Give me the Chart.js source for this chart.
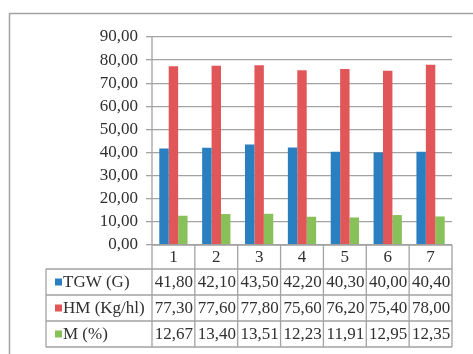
<!DOCTYPE html>
<html><head><meta charset="utf-8">
<script src="https://cdn.jsdelivr.net/npm/chart.js@4"></script>
<style>html,body{margin:0;padding:0;background:#fff;overflow:hidden}canvas{display:block}</style>
</head><body>
<canvas id="c" width="473" height="354"></canvas>
<script>
const categories = ['1','2','3','4','5','6','7'];
const seriesNames = ['TGW (G)', 'HM (Kg/hl)', 'M (%)'];
const tgw = [41.80, 42.10, 43.50, 42.20, 40.30, 40.00, 40.40];
const hm = [77.30, 77.60, 77.80, 75.60, 76.20, 75.40, 78.00];
const moisture = [12.67, 13.40, 13.51, 12.23, 11.91, 12.95, 12.35];
const yMin = 0, yMax = 90, yStep = 10;
const seriesColors = ['#2A7FC1', '#E15759', '#88C05A'];

const FONT = "'Liberation Serif', 'Times New Roman', 'DejaVu Serif', serif";
const TEXT = '#303030';
const LINE = '#A3A3A3';
const fmt = v => v.toFixed(2).replace('.', ',');

const tablePlugin = {
  id: 'dataTable',
  beforeDraw(chart) {
    const ctx = chart.ctx;
    ctx.save();
    ctx.strokeStyle = LINE;
    ctx.lineWidth = 1.5;
    ctx.beginPath();
    ctx.moveTo(9.5, 354); ctx.lineTo(9.5, 13.5); ctx.lineTo(473, 13.5);
    ctx.stroke();
    ctx.restore();
  },
  afterDraw(chart) {
    const ctx = chart.ctx, xs = chart.scales.x, area = chart.chartArea;
    const n = categories.length;
    const w = (area.right - area.left) / n;
    const tableLeft = 46;
    const yHeadTop = area.bottom;
    const rows = [yHeadTop, yHeadTop + 24, yHeadTop + 50, yHeadTop + 76, yHeadTop + 102];
    const series = [tgw, hm, moisture];
    ctx.save();
    ctx.strokeStyle = LINE;
    ctx.lineWidth = 1.3;
    ctx.beginPath();
    ctx.moveTo(area.left, rows[0]); ctx.lineTo(area.right, rows[0]);
    for (let r = 1; r < rows.length; r++) {
      ctx.moveTo(tableLeft, rows[r]); ctx.lineTo(area.right, rows[r]);
    }
    ctx.moveTo(tableLeft, rows[1]); ctx.lineTo(tableLeft, rows[4]);
    ctx.moveTo(area.left, area.top); ctx.lineTo(area.left, rows[4]);
    for (let i = 0; i < n; i++) {
      const xr = xs.getPixelForValue(i) + w / 2;
      ctx.moveTo(xr, rows[0]); ctx.lineTo(xr, rows[4]);
    }
    ctx.stroke();

    ctx.fillStyle = TEXT;
    ctx.font = '17px ' + FONT;
    ctx.textAlign = 'center';
    ctx.textBaseline = 'middle';
    for (let i = 0; i < n; i++) {
      const cx = xs.getPixelForValue(i);
      ctx.fillText(categories[i], cx, (rows[0] + rows[1]) / 2 + 1);
      for (let s = 0; s < series.length; s++) {
        ctx.fillText(fmt(series[s][i]), cx + 0.5, (rows[s + 1] + rows[s + 2]) / 2 + 1);
      }
    }
    ctx.textAlign = 'left';
    for (let s = 0; s < series.length; s++) {
      const cy = (rows[s + 1] + rows[s + 2]) / 2;
      ctx.fillStyle = seriesColors[s];
      ctx.fillRect(55, cy - 3.5, 7, 7);
      ctx.fillStyle = TEXT;
      ctx.fillText(seriesNames[s], 63, cy + 1);
    }
    ctx.restore();
  }
};

new Chart(document.getElementById('c'), {
  type: 'bar',
  data: {
    labels: categories,
    datasets: [
      { label: seriesNames[0], data: tgw, backgroundColor: seriesColors[0] },
      { label: seriesNames[1], data: hm, backgroundColor: seriesColors[1] },
      { label: seriesNames[2], data: moisture, backgroundColor: seriesColors[2] }
    ]
  },
  options: {
    responsive: false,
    animation: false,
    devicePixelRatio: 1,
    layout: { padding: { left: 0, top: 37, right: 21, bottom: 109 } },
    datasets: { bar: { categoryPercentage: 0.66, barPercentage: 1 } },
    plugins: { legend: { display: false }, tooltip: { enabled: false } },
    scales: {
      x: {
        grid: { display: false },
        border: { display: false },
        ticks: { display: false },
        afterFit(scale) { scale.height = 0; }
      },
      y: {
        min: yMin, max: yMax,
        grid: { color: LINE, lineWidth: 1.3, tickLength: 6 },
        border: { display: false },
        ticks: {
          stepSize: yStep,
          autoSkip: false,
          color: TEXT,
          padding: 8,
          font: { family: FONT, size: 17 },
          callback: v => fmt(v)
        },
        afterFit(scale) { scale.width = 152; }
      }
    }
  },
  plugins: [tablePlugin]
});
</script>
</body></html>
